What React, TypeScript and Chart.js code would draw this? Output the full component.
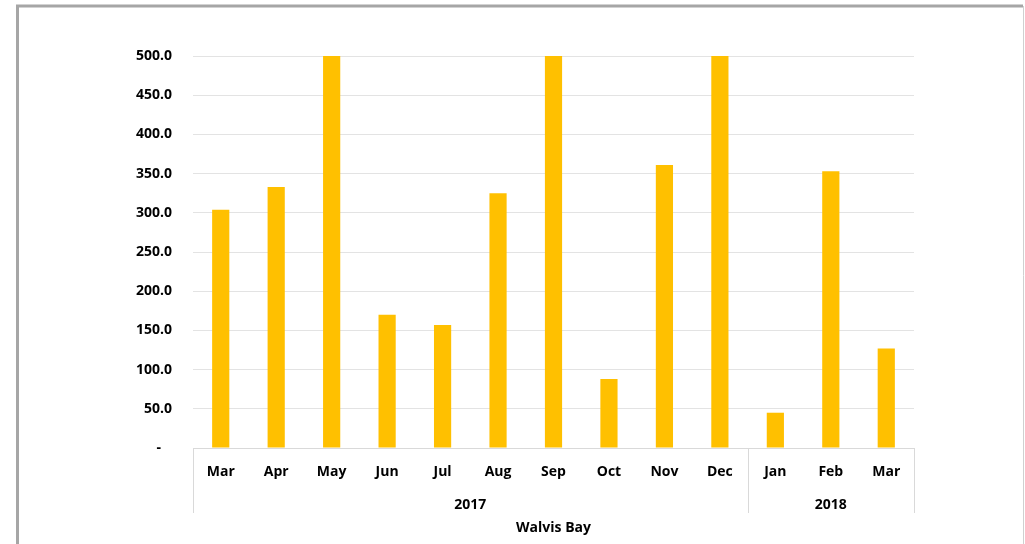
import React, { useEffect, useRef } from "react";
import { Chart, registerables } from "chart.js";

Chart.register(...registerables);

const months = ["Mar", "Apr", "May", "Jun", "Jul", "Aug", "Sep", "Oct", "Nov", "Dec", "Jan", "Feb", "Mar"];
const values = [304, 333, 500, 170, 157, 325, 500, 88, 361, 500, 45, 353, 127];
const yearGroups = [
  { label: "2017", start: 0, end: 9 },
  { label: "2018", start: 10, end: 12 },
];
const axisTitle = "Walvis Bay";

const FONT = "'Open Sans', sans-serif";

const framePlugin = {
  id: "frameAndGroups",
  afterDraw(chart: any) {
    const ctx = chart.ctx;
    const x = chart.scales.x;
    const area = chart.chartArea;
    ctx.save();
    // outer frame
    ctx.strokeStyle = "#a6a6a6";
    ctx.lineWidth = 3;
    ctx.beginPath();
    ctx.moveTo(17.5, 560);
    ctx.lineTo(17.5, 6);
    ctx.lineTo(1023, 6);
    ctx.stroke();
    ctx.strokeStyle = "#d0d0d0";
    ctx.lineWidth = 1;
    ctx.beginPath();
    ctx.moveTo(1023.5, 6);
    ctx.lineTo(1023.5, 560);
    ctx.stroke();

    // group separators
    const half = (x.getPixelForValue(1) - x.getPixelForValue(0)) / 2;
    ctx.strokeStyle = "#d9d9d9";
    ctx.lineWidth = 1;
    const bounds: number[] = [];
    yearGroups.forEach((g, i) => {
      if (i === 0) bounds.push(x.getPixelForValue(g.start) - half);
      bounds.push(x.getPixelForValue(g.end) + half);
    });
    bounds.forEach((b) => {
      const px = Math.round(b) + 0.5;
      ctx.beginPath();
      ctx.moveTo(px, area.bottom);
      ctx.lineTo(px, area.bottom + 65);
      ctx.stroke();
    });

    ctx.fillStyle = "#000";
    ctx.font = `bold 14px ${FONT}`;
    ctx.textAlign = "center";
    ctx.textBaseline = "middle";
    yearGroups.forEach((g) => {
      const l = x.getPixelForValue(g.start) - half;
      const r = x.getPixelForValue(g.end) + half;
      ctx.fillText(g.label, (l + r) / 2, area.bottom + 57);
    });
    ctx.fillText(axisTitle, (area.left + area.right) / 2, area.bottom + 80);
    ctx.restore();
  },
};

export default function App() {
  const ref = useRef<HTMLCanvasElement>(null);
  useEffect(() => {
    if (!ref.current) return;
    const chart = new Chart(ref.current, {
      type: "bar",
      data: {
        labels: months,
        datasets: [
          {
            data: values,
            backgroundColor: "#FFC000",
            barPercentage: 0.31,
            categoryPercentage: 1,
          },
        ],
      },
      options: {
        animation: false,
        responsive: false,
        layout: { padding: { top: 56, right: 111, bottom: 0, left: 0 } },
        plugins: { legend: { display: false }, tooltip: { enabled: false } },
        scales: {
          x: {
            grid: { display: false, drawTicks: false },
            border: { display: true, color: "#d9d9d9" },
            ticks: {
              color: "#000",
              font: { family: FONT, size: 14, weight: "bold" },
              padding: 16,
              maxRotation: 0,
              autoSkip: false,
            },
            afterFit(scale: any) {
              scale.height = 96;
            },
          },
          y: {
            min: 0,
            max: 500,
            grid: { color: "#e3e3e3", drawTicks: false },
            border: { display: false },
            ticks: {
              stepSize: 50,
              color: "#000",
              font: { family: FONT, size: 14, weight: "bold" },
              padding: 21,
              callback: (v: any) => (Number(v) === 0 ? "-   " : Number(v).toFixed(1)),
            },
            afterFit(scale: any) {
              scale.width = 193;
            },
          },
        },
      },
      plugins: [framePlugin],
    });
    return () => chart.destroy();
  }, []);
  return (
    <div style={{ position: "fixed", left: 0, top: 0, width: 1025, height: 544, background: "#fff" }}>
      <canvas ref={ref} width={1025} height={544} style={{ display: "block" }} />
    </div>
  );
}
